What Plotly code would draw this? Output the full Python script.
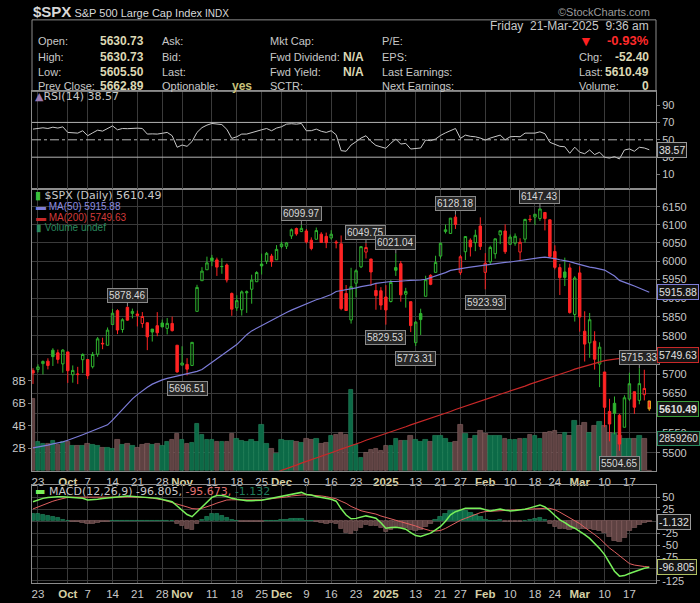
import math
import plotly.graph_objects as go

# $SPX daily, 20-Sep-2024 .. 21-Mar-2025
month_days = {
    "2024-09": [20, 23, 24, 25, 26, 27, 30],
    "2024-10": [1, 2, 3, 4, 7, 8, 9, 10, 11, 14, 15, 16, 17, 18, 21, 22, 23, 24, 25, 28, 29, 30, 31],
    "2024-11": [1, 4, 5, 6, 7, 8, 11, 12, 13, 14, 15, 18, 19, 20, 21, 22, 25, 26, 27, 29],
    "2024-12": [2, 3, 4, 5, 6, 9, 10, 11, 12, 13, 16, 17, 18, 19, 20, 23, 24, 26, 27, 30, 31],
    "2025-01": [2, 3, 6, 7, 8, 10, 13, 14, 15, 16, 17, 21, 22, 23, 24, 27, 28, 29, 30, 31],
    "2025-02": [3, 4, 5, 6, 7, 10, 11, 12, 13, 14, 18, 19, 20, 21, 24, 25, 26, 27, 28],
    "2025-03": [3, 4, 5, 6, 7, 10, 11, 12, 13, 14, 17, 18, 19, 20, 21],
}
dates = [f"{m}-{d:02d}" for m, days in month_days.items() for d in days]

opens = [5709.0, 5711.9, 5727.2, 5733.6, 5762.2, 5755.4, 5726.5, 5757.7, 5698.2, 5698.6,
         5737.4, 5737.8, 5719.1, 5751.8, 5778.4, 5775.1, 5829.8, 5866.7, 5816.6, 5875.6,
         5859.4, 5857.8, 5832.7, 5834.5, 5817.8, 5826.8, 5833.9, 5819.7, 5832.7, 5775.3,
         5723.2, 5725.2, 5722.4, 5864.9, 5947.2, 5976.8, 6008.9, 6003.6, 5985.8, 5989.7,
         5912.8, 5874.2, 5869.0, 5914.6, 5924.1, 5944.4, 5992.3, 6000.0, 6014.1, 6004.0,
         6040.1, 6041.0, 6069.4, 6089.8, 6081.4, 6083.0, 6057.6, 6060.2, 6074.3, 6068.2,
         6063.8, 6052.6, 6047.7, 5912.7, 5842.0, 5940.3, 5984.7, 6025.0, 6006.2, 5920.7,
         5920.0, 5903.3, 5891.1, 5982.8, 5993.3, 5910.7, 5890.7, 5782.0, 5859.0, 5905.2,
         5961.7, 5969.7, 6014.1, 6081.4, 6076.3, 6121.4, 5969.0, 6026.0, 6057.7, 6050.8,
         6096.8, 5969.7, 5998.1, 6020.5, 6072.2, 6083.1, 6046.4, 6049.3, 6025.1, 6060.6,
         6115.5, 6121.6, 6117.8, 6134.5, 6114.1, 6026.7, 5982.7, 5970.9, 5981.9, 5856.7,
         5968.3, 5812.0, 5781.4, 5785.9, 5726.0, 5705.4, 5603.7, 5624.8, 5594.4, 5563.9,
         5635.6, 5654.5, 5632.4, 5646.9, 5630.73]
highs = [5715.1, 5725.4, 5735.3, 5741.0, 5767.4, 5763.8, 5765.1, 5757.7, 5722.4, 5718.8,
         5753.9, 5739.3, 5757.6, 5796.8, 5795.0, 5822.1, 5871.4, 5870.4, 5846.5, 5878.46,
         5872.2, 5866.9, 5863.0, 5834.9, 5817.8, 5862.8, 5842.9, 5847.2, 5850.9, 5775.3,
         5772.5, 5741.4, 5783.4, 5936.1, 5983.8, 6012.5, 6017.3, 6009.9, 6008.2, 5993.9,
         5915.3, 5908.1, 5920.7, 5920.7, 5963.4, 5972.9, 6020.8, 6025.4, 6020.2, 6044.2,
         6053.6, 6052.6, 6089.8, 6092.5, 6099.97, 6088.5, 6065.4, 6092.6, 6079.7, 6078.6,
         6085.2, 6057.7, 6070.7, 5935.5, 5982.1, 5978.3, 6040.1, 6049.75, 6006.2, 5940.8,
         5929.7, 5935.1, 5949.3, 6021.04, 6000.7, 5927.9, 5890.7, 5838.8, 5871.9, 5960.6,
         5964.7, 6015.0, 6051.5, 6100.8, 6118.7, 6128.18, 6017.2, 6069.1, 6062.8, 6086.6,
         6120.9, 6022.1, 6042.5, 6062.0, 6084.0, 6101.3, 6073.4, 6076.3, 6063.0, 6116.9,
         6127.5, 6129.6, 6147.43, 6134.5, 6114.8, 6043.7, 5992.7, 6009.8, 5993.7, 5959.4,
         5986.1, 5865.1, 5860.6, 5812.1, 5783.0, 5705.4, 5636.3, 5642.2, 5597.8, 5645.3,
         5703.5, 5654.5, 5715.33, 5711.2, 5630.73]
lows = [5674.5, 5704.2, 5698.9, 5712.1, 5721.0, 5727.3, 5703.5, 5677.2, 5677.7, 5674.0,
        5702.9, 5686.9, 5714.6, 5745.0, 5764.8, 5775.1, 5829.8, 5804.5, 5808.3, 5840.3,
        5846.1, 5824.8, 5821.2, 5762.4, 5784.9, 5799.0, 5823.1, 5803.7, 5811.3, 5703.9,
        5723.2, 5696.51, 5722.1, 5864.9, 5947.2, 5976.8, 5986.7, 5960.1, 5965.9, 5942.3,
        5853.0, 5865.9, 5853.6, 5860.7, 5885.3, 5944.4, 5963.9, 5992.3, 5984.9, 6004.0,
        6035.3, 6033.4, 6061.1, 6070.1, 6080.0, 6048.6, 6029.9, 6060.2, 6051.2, 6035.8,
        6059.1, 6035.2, 5867.8, 5866.1, 5832.3, 5902.6, 5981.4, 6007.4, 5933.0, 5869.2,
        5868.9, 5829.53, 5888.7, 5960.0, 5890.7, 5874.8, 5809.9, 5773.31, 5802.2, 5905.2,
        5935.0, 5969.7, 6006.9, 6076.1, 6074.7, 6088.7, 5962.9, 6003.3, 6013.0, 6027.5,
        6030.9, 5923.93, 5990.9, 6007.1, 6046.8, 6020.0, 6044.8, 6042.3, 6003.0, 6051.0,
        6107.6, 6099.5, 6111.2, 6084.6, 6008.6, 5977.8, 5908.5, 5932.7, 5858.8, 5837.7,
        5810.9, 5732.6, 5742.4, 5711.6, 5666.3, 5564.0, 5528.4, 5546.1, 5504.65, 5563.9,
        5631.1, 5597.8, 5622.2, 5632.3, 5605.50]
closes = [5702.6, 5718.6, 5732.9, 5722.3, 5745.4, 5738.2, 5762.5, 5708.8, 5709.5, 5699.9,
          5751.1, 5695.9, 5751.1, 5792.0, 5780.1, 5815.0, 5859.9, 5815.3, 5842.5, 5841.5,
          5864.7, 5854.0, 5851.2, 5797.4, 5809.9, 5808.1, 5823.5, 5832.9, 5813.7, 5705.5,
          5728.8, 5712.7, 5782.8, 5929.0, 5973.1, 5995.5, 6001.4, 5984.0, 5985.4, 5949.2,
          5870.6, 5893.6, 5917.0, 5917.1, 5948.7, 5969.3, 5987.4, 6021.6, 5998.7, 6032.4,
          6047.2, 6049.9, 6086.5, 6075.1, 6090.3, 6052.9, 6034.9, 6084.2, 6051.3, 6051.1,
          6074.1, 6050.6, 5872.2, 5867.1, 5930.9, 5974.1, 6040.0, 6037.6, 5970.8, 5906.9,
          5881.6, 5868.6, 5942.5, 5975.4, 5909.0, 5918.3, 5827.0, 5836.2, 5842.9, 5949.9,
          5937.3, 5996.7, 6049.2, 6086.4, 6118.7, 6101.2, 6012.3, 6067.7, 6039.3, 6071.2,
          6040.5, 5994.6, 6037.9, 6061.5, 6083.6, 6026.0, 6066.4, 6068.5, 6052.0, 6115.1,
          6114.6, 6129.6, 6144.2, 6117.5, 6013.1, 5983.3, 5955.3, 5956.1, 5861.6, 5954.5,
          5849.7, 5778.2, 5842.6, 5738.5, 5770.2, 5614.6, 5572.1, 5599.3, 5521.5, 5638.9,
          5675.1, 5614.7, 5675.3, 5662.89, 5610.49]
prev_close_start = 5713.64

volume_b = [6.4, 2.6, 2.4, 2.4, 2.7, 2.3, 2.6, 2.6, 2.2, 2.2,
            2.2, 2.4, 2.3, 2.2, 2.1, 2.1, 2.0, 2.8, 2.3, 2.4,
            2.2, 2.1, 2.3, 2.4, 2.3, 2.4, 2.2, 2.6, 2.8, 3.3,
            2.8, 2.4, 2.5, 4.2, 3.2, 2.8, 2.8, 2.6, 2.6, 2.6,
            3.3, 2.9, 2.7, 2.6, 2.8, 2.6, 4.1, 2.4, 2.0, 1.5,
            2.8, 2.7, 2.7, 2.6, 2.5, 2.9, 2.8, 2.9, 2.4, 2.5,
            3.1, 3.2, 3.4, 3.2, 7.2, 2.3, 1.2, 1.6, 1.9, 1.95,
            1.8, 2.2, 2.2, 2.9, 2.7, 2.65, 3.1, 2.8, 2.55, 2.8,
            2.55, 3.1, 3.15, 2.9, 2.5, 2.55, 4.1, 3.3, 2.9, 3.1,
            3.6, 3.3, 3.15, 3.15, 3.1, 2.85, 2.8, 2.8, 2.9, 2.9,
            3.2, 3.1, 2.9, 3.4, 3.45, 3.55, 3.2, 3.4, 3.15, 4.45,
            4.0, 4.3, 3.4, 4.0, 4.35, 4.0, 3.4, 3.3, 3.1, 2.9,
            2.9, 2.85, 3.1, 2.86, 0.0]

ma50 = [5512, 5514, 5517, 5519, 5522, 5524, 5527, 5531, 5535, 5540,
        5545, 5550, 5555, 5560, 5565, 5570, 5582, 5596, 5610, 5624,
        5636, 5647, 5657, 5666, 5674, 5680, 5685, 5689, 5692, 5695,
        5698, 5700, 5703, 5707, 5712, 5721, 5730, 5740, 5750, 5759,
        5768, 5777, 5790, 5803, 5813, 5820, 5828, 5835, 5842, 5849,
        5856, 5862, 5868, 5874, 5880, 5886, 5891, 5896, 5900, 5905,
        5910, 5918, 5921, 5924, 5926, 5928, 5931, 5933, 5936, 5940,
        5942, 5944, 5945, 5945, 5947, 5947, 5948, 5948, 5949, 5951,
        5955, 5959, 5964, 5969, 5975, 5978, 5980, 5982, 5984, 5986,
        5987, 5989, 5991, 5993, 5995, 5997, 5998, 6000, 6003, 6005,
        6007, 6009, 6010, 6011, 6010, 6007, 6004, 6002, 5999, 5995,
        5991, 5987, 5984, 5982, 5980, 5976, 5968, 5960, 5948, 5942,
        5938, 5933, 5927, 5921, 5915.88]
ma200 = [None] * 46 + [
    5438, 5442, 5447, 5451, 5456, 5460, 5465, 5469, 5474, 5478,
    5482, 5487, 5491, 5496, 5500, 5504, 5509, 5513, 5518, 5522,
    5526, 5531, 5535, 5539, 5544, 5548, 5552, 5557, 5561, 5565,
    5570, 5574, 5578, 5583, 5587, 5591, 5596, 5600, 5604, 5609,
    5613, 5617, 5622, 5626, 5630, 5635, 5639, 5643, 5648, 5652,
    5656, 5661, 5665, 5669, 5674, 5678, 5682, 5687, 5691, 5695,
    5700, 5704, 5708, 5713, 5717, 5721, 5725, 5729, 5732, 5735,
    5737, 5739, 5741, 5743, 5745, 5746, 5747, 5748, 5749.63]

rsi14 = [62.3, 63.0, 63.8, 63.0, 64.5, 63.5, 64.9, 58.5, 58.2, 57.7,
         60.4, 54.7, 58.0, 61.1, 60.0, 63.0, 66.0, 61.5, 63.0, 62.8,
         63.5, 63.4, 63.0, 56.6, 56.8, 56.6, 57.5, 58.5, 54.7, 41.4,
         44.0, 42.5, 48.0, 58.5, 64.0, 66.9, 68.8, 68.0, 67.5, 62.0,
         51.6, 53.5, 56.6, 56.6, 58.5, 60.0, 61.5, 63.0, 60.4, 63.5,
         65.0, 68.0, 68.5, 68.0, 68.8, 60.4, 60.5, 62.3, 59.8, 58.5,
         60.4, 55.8, 37.5, 36.8, 44.0, 47.8, 52.0, 54.7, 48.2, 43.5,
         41.4, 40.2, 46.0, 50.9, 45.1, 45.9, 39.4, 40.0, 40.6, 49.7,
         49.0, 50.9, 55.0, 58.0, 60.4, 63.0, 51.6, 55.4, 54.0, 53.5,
         52.0, 49.7, 52.0, 53.5, 55.4, 50.0, 53.5, 53.8, 53.5, 57.7,
         57.5, 57.7, 59.2, 57.0, 47.1, 45.0, 42.5, 42.0, 34.5, 41.5,
         35.7, 34.0, 38.3, 33.0, 35.7, 29.9, 29.0, 30.6, 28.0, 38.3,
         39.5, 36.8, 41.4, 40.6, 38.57]

macd_line = [41, 45, 48, 50, 51.5, 51.5, 51.5, 50.5, 50, 49.4,
             48, 44.6, 45, 45.9, 47.5, 49, 50, 51, 52, 53,
             52.5, 52, 51.5, 50.5, 49, 48, 46, 44, 41, 32,
             23.7, 14, 9.5, 20, 30.6, 40, 50, 54, 54, 52,
             48, 46, 44, 43, 43, 43, 44, 46, 48, 50,
             52, 55, 57.5, 59.5, 60.5, 56, 55, 52, 50, 47,
             46, 42, 26, 13, 5, 6, 9, 11.2, 9, 6.3,
             -3, -14.6, -13, -12.5, -14, -16.7, -24, -30, -31.9, -28,
             -25, -18, -11, 0, 13.3, 20, 23.7, 27, 27, 27.5,
             27, 24, 21.7, 23.5, 25.8, 23, 21.7, 22.5, 23.5, 25,
             28, 30.6, 34.2, 30, 22, 12, 3, -3, -10, -14.6,
             -21, -28.3, -36, -45.8, -57, -70, -88, -104.8, -115.2, -114,
             -109.6, -106, -101, -98.5, -96.805]
macd_signal = [25.8, 30, 34, 38, 42, 45, 48, 50, 50.5, 50.5,
               50.5, 50, 49.5, 49, 49, 49.5, 50, 50, 50.5, 51,
               51, 51, 50.5, 49.5, 48.5, 47, 45, 42, 39, 37.5,
               34, 30, 26.5, 25.8, 27, 30, 34, 38, 42, 44.6,
               45, 44.8, 44.6, 44.6, 44.6, 44.6, 45, 46, 47, 48,
               49.5, 51, 53, 54.5, 55, 55.5, 55, 54, 53, 51.5,
               50, 47, 42, 37.5, 31, 26, 22, 19.5, 18, 15,
               11, 7.5, 5, 2, -1, -4, -6.3, -10, -14, -17,
               -20, -20.5, -19.4, -15, -9, -3, 2, 6, 10, 14,
               18, 20.2, 21, 22, 22.5, 23.2, 23.7, 24, 24.5, 25,
               25.8, 26.2, 26.8, 27, 27, 24, 19, 13, 8, 2,
               -5, -13, -20, -28, -36, -46, -56.2, -64, -72, -80,
               -88.8, -92, -94, -95, -95.673]
macd_hist = [15.2, 15, 14, 12, 9.5, 6.5, 3.5, 0.5, -0.5, -1.1,
             -2.5, -5.4, -4.5, -3.1, -1.5, -0.5, 0, 1, 1.5, 2,
             1.5, 1, 1, 1, 0.5, 1, 1, 2, 2, -5.5,
             -10.3, -16, -17, -5.8, 3.6, 10, 16, 16, 12, 7.4,
             3, 1.2, -0.6, -1.6, -1.6, -1.6, -1, 0, 1, 2,
             2.5, 4, 4.5, 5, 5.5, 0.5, 0, -2, -3, -4.5,
             -4, -5, -16, -24.5, -26, -20, -13, -8.3, -9, -8.7,
             -14, -22.1, -18, -14.5, -13, -12.7, -17.7, -20, -17.9, -11,
             -5, 2.5, 8.4, 15, 22.3, 23, 21.7, 21, 17, 13.5,
             9, 3.8, 0.7, 1.5, 3.3, -0.2, -2, -1.5, -1, 0,
             2.2, 4.4, 7.4, 3, -5, -12, -16, -16, -18, -16.6,
             -16, -15.3, -16, -17.8, -21, -24, -31.8, -40.8, -43.2, -34,
             -20.8, -14, -7, -3.5, -1.132]

tick_dates = ["2024-09-23", "2024-10-01", "2024-10-07", "2024-10-14", "2024-10-21", "2024-10-28",
              "2024-11-01", "2024-11-11", "2024-11-18", "2024-11-25", "2024-12-02", "2024-12-09",
              "2024-12-16", "2024-12-23", "2025-01-02", "2025-01-13", "2025-01-21", "2025-01-27",
              "2025-02-03", "2025-02-10", "2025-02-18", "2025-02-24", "2025-03-03", "2025-03-10",
              "2025-03-17"]
tick_text = ["23", "Oct", "7", "14", "21", "28", "Nov", "11", "18", "25", "Dec", "9", "16", "23",
             "2025", "13", "21", "27", "Feb", "10", "18", "24", "Mar", "10", "17"]
month_labels = ["Oct", "Nov", "Dec", "2025", "Feb", "Mar"]

callout_dates = ["2024-10-17", "2024-11-04", "2024-12-06", "2024-12-26", "2025-01-02", "2025-01-06",
                 "2025-01-13", "2025-01-24", "2025-02-03", "2025-02-19", "2025-03-13", "2025-03-19"]
callout_kind = ["high", "low", "high", "high", "low", "high", "low", "high", "low", "high", "low", "high"]

price_ticks = [5500, 5550, 5600, 5650, 5700, 5750, 5800, 5850, 5900, 5950, 6000, 6050, 6100, 6150]
price_hidden = [5600, 5750]          # sit under the value tags in the picture
macd_ticks = [50, 25, 0, -25, -50, -75, -100, -125]
macd_hidden = [0, -100]
rsi_ticks = [10, 30, 50, 70, 90]

# ---- styling
W, H = 700, 603
FONT = "Liberation Sans, Arial, sans-serif"
WIDE = "DejaVu Sans, Verdana, sans-serif"
TXT = "#c8c8c8"
VAL = "#dcd8b4"
GRID = "#3a3a3a"
BORDER = "#8c8c8c"
GREEN = "#2fb52f"
RED = "#ff2424"
VOL_UP, VOL_UP_EDGE = "#0c6a47", "#2a8c62"
VOL_DN, VOL_DN_EDGE = "#5e4242", "#8c6464"


def px(x):
    return x / W


def py(y):
    return 1 - y / H


x = list(range(len(dates)))
prev = [prev_close_start] + closes[:-1]
last = x[-1]
up = [i for i in x[:-1] if closes[i] >= prev[i]]
dn = [i for i in x[:-1] if closes[i] < prev[i]]

fig = go.Figure()

# volume (base axis of the price panel so candles sit above it)
vol_up = [closes[i] >= prev[i] for i in x]
fig.add_trace(go.Bar(
    x=x, y=volume_b, xaxis="x", yaxis="y", width=0.92,
    marker=dict(color=[VOL_UP if u else VOL_DN for u in vol_up],
                line=dict(color=[VOL_UP_EDGE if u else VOL_DN_EDGE for u in vol_up], width=0.6)),
    showlegend=False, hoverinfo="skip"))


def candles(idx, color, edge=None):
    return go.Candlestick(
        x=idx, open=[opens[i] for i in idx], high=[highs[i] for i in idx],
        low=[lows[i] for i in idx], close=[closes[i] for i in idx],
        xaxis="x", yaxis="y4", whiskerwidth=0, showlegend=False,
        increasing=dict(line=dict(color=edge or color, width=1), fillcolor="rgba(0,0,0,0)"),
        decreasing=dict(line=dict(color=edge or color, width=1), fillcolor=color))


fig.add_trace(candles(up, GREEN))
fig.add_trace(candles(dn, RED))
fig.add_trace(candles([last], RED, edge="#e8a020"))

fig.add_trace(go.Scatter(x=x, y=ma50, xaxis="x", yaxis="y4", mode="lines",
                         line=dict(color="#7c7cd8", width=1.2), showlegend=False))
fig.add_trace(go.Scatter(x=x, y=ma200, xaxis="x", yaxis="y4", mode="lines",
                         line=dict(color="#c82828", width=1.2), showlegend=False))

# RSI
fig.add_trace(go.Scatter(x=x, y=rsi14, xaxis="x3", yaxis="y3", mode="lines",
                         line=dict(color="#c8c8c8", width=1), showlegend=False))

# MACD
fig.add_trace(go.Bar(
    x=x, y=macd_hist, xaxis="x2", yaxis="y2", width=0.92,
    marker=dict(color=[VOL_UP if v >= 0 else VOL_DN for v in macd_hist],
                line=dict(color=[VOL_UP_EDGE if v >= 0 else VOL_DN_EDGE for v in macd_hist], width=0.6)),
    showlegend=False))
fig.add_trace(go.Scatter(x=x, y=macd_signal, xaxis="x2", yaxis="y2", mode="lines",
                         line=dict(color="#e06060", width=1), showlegend=False))
fig.add_trace(go.Scatter(x=x, y=macd_line, xaxis="x2", yaxis="y2", mode="lines",
                         line=dict(color="#78f05a", width=1.5), showlegend=False))

tickvals = [dates.index(d) for d in tick_dates]
ticktext = [f"<b><span style='color:#d6d0a4'>{t}</span></b>" if t in month_labels else t
            for t in tick_text]
x_range = [-0.2, 125.35]
x_dom = [px(32), px(656)]
main_dom = [py(474), py(190)]
macd_dom = [py(587), py(488)]
rsi_dom = [py(190), py(92)]

xcommon = dict(domain=x_dom, range=x_range, tickvals=tickvals, ticktext=ticktext, tickangle=0,
               showgrid=True, gridcolor=GRID, gridwidth=1, zeroline=False,
               showline=True, mirror=True, linecolor=BORDER, linewidth=1,
               ticks="", tickfont=dict(family=FONT, size=11.5, color=TXT))
ycommon = dict(zeroline=False, showline=True, mirror=True, linecolor=BORDER, linewidth=1,
               tickfont=dict(family=FONT, size=11, color=TXT), ticks="outside", ticklen=3,
               tickcolor="#777")

fig.update_layout(
    width=W, height=H, margin=dict(l=0, r=0, t=0, b=0),
    paper_bgcolor="black", plot_bgcolor="black",
    font=dict(family=FONT, color=TXT),
    showlegend=False, bargap=0, hovermode=False,
    xaxis=dict(xcommon, anchor="y", rangeslider=dict(visible=False)),
    xaxis2=dict(xcommon, anchor="y2", matches="x"),
    xaxis3=dict(xcommon, anchor="y3", matches="x", showticklabels=False),
    yaxis=dict(ycommon, domain=main_dom, range=[0, 25.1], side="left",
               tickvals=[2, 4, 6, 8], ticktext=["2B", "4B", "6B", "8B"], showgrid=False),
    yaxis4=dict(ycommon, overlaying="y", anchor="x", side="right", type="log",
                range=[math.log10(5454.7), math.log10(6201.0)], tickvals=price_ticks,
                ticktext=["" if v in price_hidden else str(v) for v in price_ticks],
                showgrid=True, gridcolor=GRID, showline=False),
    yaxis2=dict(ycommon, domain=macd_dom, anchor="x2", side="right", range=[-129.8, 76.5],
                tickvals=macd_ticks,
                ticktext=["" if v in macd_hidden else str(v) for v in macd_ticks],
                showgrid=True, gridcolor=GRID),
    yaxis3=dict(ycommon, domain=rsi_dom, anchor="x3", side="right", range=[-6.3, 105.7],
                tickvals=rsi_ticks, showgrid=False),
)

# RSI reference lines
for lvl, dash in [(70, "solid"), (30, "solid"), (50, "dashdot")]:
    fig.add_shape(type="line", xref="x3 domain", yref="y3", x0=0, x1=1, y0=lvl, y1=lvl,
                  line=dict(color="#b4b4b4", width=1, dash=dash))

# header box
fig.add_shape(type="rect", xref="paper", yref="paper", x0=px(32), x1=px(656), y0=py(92), y1=py(20),
              line=dict(color=BORDER, width=1))

ann = []


def text(xp, yp, s, anchor="left", size=12, color=TXT, bold=False, family=FONT):
    ann.append(dict(xref="paper", yref="paper", x=px(xp), y=py(yp), xanchor=anchor, yanchor="middle",
                    text=f"<b>{s}</b>" if bold else s, showarrow=False,
                    font=dict(family=family, size=size, color=color)))


# title line
text(31, 12, "<b><span style='font-size:15px'>$SPX</span></b> S&amp;P 500 Large Cap Index "
             "<span style='font-size:10px'>INDX</span>", size=11, color="#d8d8d8")
text(652, 12, "©StockCharts.com", anchor="right", size=11, color="#9a9a9a")

rows = [41, 57, 72, 87]
col1 = ["Open:", "High:", "Low:", "Prev Close:"]
col1_v = ["5630.73", "5630.73", "5605.50", "5662.89"]
col2 = ["Ask:", "Bid:", "Last:", "Optionable:"]
col3 = ["Mkt Cap:", "Fwd Dividend:", "Fwd Yield:", "SCTR:"]
col3_v = ["", "N/A", "N/A", ""]
col4 = ["P/E:", "EPS:", "Last Earnings:", "Next Earnings:"]
col5 = ["", "Chg:", "Last:", "Volume:"]
col5_v = ["-0.93%", "-52.40", "5610.49", "0"]
HS = 11
for r, y in enumerate(rows):
    text(36, y, col1[r], size=HS)
    text(146, y, col1_v[r], anchor="right", size=12, color=VAL, bold=True)
    text(160, y, col2[r], size=HS)
    text(268, y, col3[r], size=HS)
    if col3_v[r]:
        text(366, y, col3_v[r], anchor="right", size=12, color=VAL, bold=True)
    text(380, y, col4[r], size=HS)
    if col5[r]:
        text(577, y, col5[r], size=HS)
    text(651, y, col5_v[r], anchor="right", size=13 if r == 0 else 12,
         color="#ff2a2a" if r == 0 else VAL, bold=True)
text(254, 87, "yes", anchor="right", size=12, color="#c8c07a", bold=True)
text(586, 41, "▼", anchor="center", size=14, color="#ff2020")
text(651, 26, "Friday  21-Mar-2025  9:36 am", anchor="right", size=12)

# panel labels
text(33, 97, "<span style='color:#9a7ab0'>▲</span>RSI(14) 38.57", size=11, family=WIDE)
text(33, 197, "<span style='color:#3cc03c'>▮</span> $SPX (Daily) 5610.49", size=11, family=WIDE)
text(34, 208, "<span style='color:#7c7cd8'>▬</span> MA(50) 5915.88", size=10, color="#8c8ce0")
text(34, 219, "<span style='color:#c82828'>▬</span> MA(200) 5749.63", size=10, color="#d23a3a")
text(34, 229, "▮ Volume undef", size=10, color="#2a8a5e")
text(33, 495, "<span style='color:#78f05a'>▬</span> MACD(12,26,9) -96.805, "
              "<span style='color:#e07070'>-95.673,</span> <span style='color:#1f7a5a'>-1.132</span>",
     size=11, family=WIDE)

# high / low callouts
for d, kind in zip(callout_dates, callout_kind):
    i = dates.index(d)
    v = highs[i] if kind == "high" else lows[i]
    ann.append(dict(x=i, y=math.log10(v), xref="x", yref="y4", text=f"{v:.2f}",
                    showarrow=True, arrowhead=0, arrowwidth=1, arrowcolor="#8a8a8a",
                    ax=0, ay=-11 if kind == "high" else 13,
                    bgcolor="#262626", bordercolor="#8a8a8a", borderwidth=1, borderpad=1,
                    font=dict(family=FONT, size=10, color="#d8d8d8")))


def tag(yref, yv, s, border, bold=False, size=10.5):
    ann.append(dict(xref="paper", yref=yref, x=px(657), y=yv, xanchor="left", yanchor="middle",
                    text=f"<b>{s}</b>" if bold else s, showarrow=False,
                    bgcolor="#141414", bordercolor=border, borderwidth=1, borderpad=1,
                    font=dict(family=FONT, size=size, color="#e0e0e0")))


tag("y4", math.log10(ma50[-1]), f"{ma50[-1]:.2f}", "#7c7cd8")
tag("y4", math.log10(ma200[-1]), f"{ma200[-1]:.2f}", "#c82828")
tag("y4", math.log10(closes[-1]), f"{closes[-1]:.2f}", "#3aa03a", bold=True)
tag("y", volume_b[-2], "2859260", "#2a8a5e", size=10)
tag("y3", rsi14[-1], f"{rsi14[-1]:.2f}", "#9a9a9a")
tag("y2", macd_hist[-1], f"{macd_hist[-1]:.3f}", "#9a9a9a")
tag("y2", macd_line[-1], f"{macd_line[-1]:.3f}", "#b0c060")

fig.update_layout(annotations=ann)
# the page's default 8px body margin would push the fixed-size figure off the window
fig.write_html("out.html", config={"displayModeBar": False},
               post_script="document.body.style.margin='0';")
